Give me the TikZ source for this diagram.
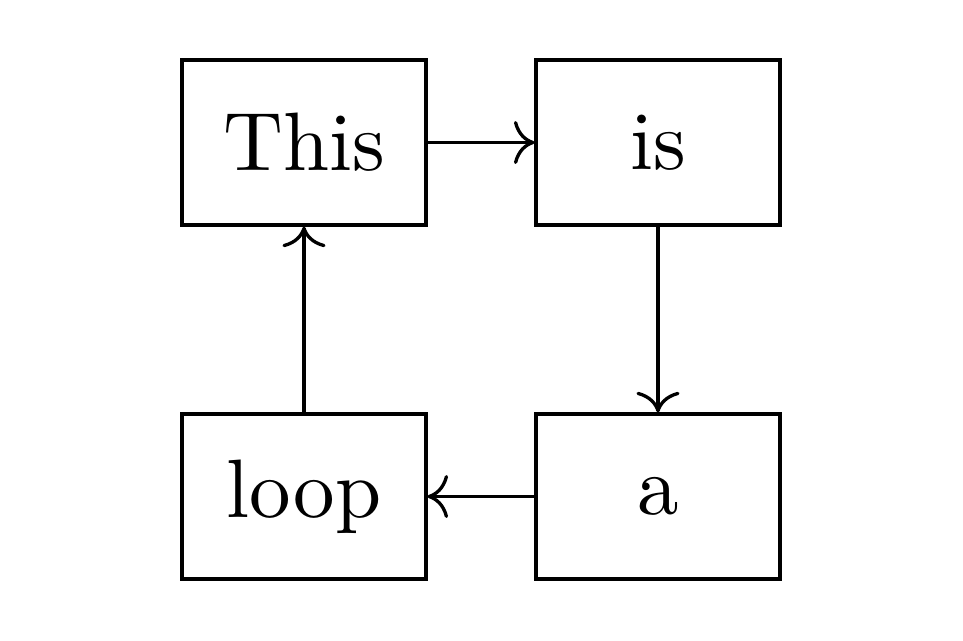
\documentclass[tikz,border=0pt]{standalone}
\usetikzlibrary{arrows.meta}
\begin{document}
\begin{tikzpicture}[x=0.1206pt,y=-0.1206pt,
  box/.style={draw,line width=0.4pt,minimum width=29.4pt,minimum height=19.9pt,inner sep=0pt,font=\fontsize{10}{12}\selectfont},
  conn/.style={->,line width=0.4pt}]
\useasboundingbox (0,0) rectangle (963,640);
\node[box] (this) at (304,142.5) {This};
\node[box] (is) at (658,142.5) {is};
\node[box] (a) at (658,496.5) {a};
\node[box] (loop) at (304,496.5) {loop};
\draw[conn] (this) -- (is);
\draw[conn] (is) -- (a);
\draw[conn] (a) -- (loop);
\draw[conn] (loop) -- (this);
\end{tikzpicture}
\end{document}
